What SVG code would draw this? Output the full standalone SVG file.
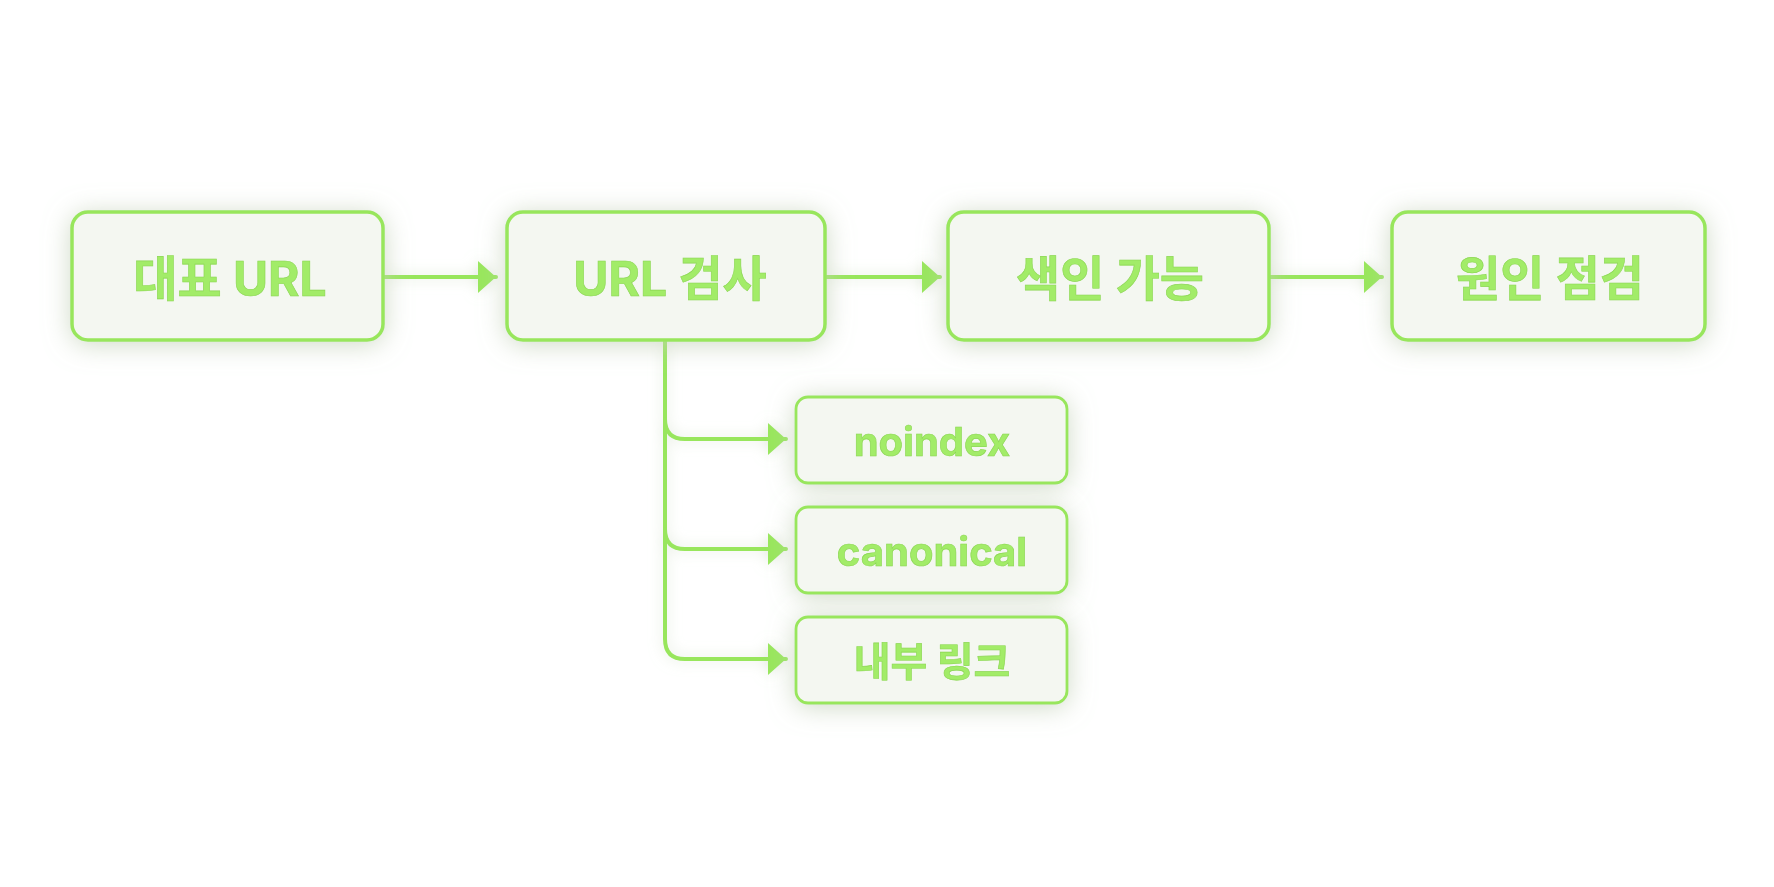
<svg xmlns="http://www.w3.org/2000/svg" width="1774" height="887" viewBox="0 0 1774 887">
<defs>
<filter id="glow" x="-25%" y="-50%" width="150%" height="200%">
<feGaussianBlur in="SourceAlpha" stdDeviation="13" result="b"/>
<feOffset in="b" dx="0" dy="3" result="o"/>
<feFlood flood-color="#c4d1b9" flood-opacity="0.8"/>
<feComposite in2="o" operator="in" result="s"/>
<feMerge><feMergeNode in="s"/><feMergeNode in="SourceGraphic"/></feMerge>
</filter>
<filter id="lglow" x="-20%" y="-20%" width="140%" height="140%">
<feGaussianBlur in="SourceAlpha" stdDeviation="7" result="b"/>
<feFlood flood-color="#d0dcc6" flood-opacity="0.7"/>
<feComposite in2="b" operator="in" result="s"/>
<feMerge><feMergeNode in="s"/><feMergeNode in="SourceGraphic"/></feMerge>
</filter>
<marker id="ah" viewBox="0 0 18 32" refX="18" refY="16" markerWidth="18" markerHeight="32" markerUnits="userSpaceOnUse" orient="auto">
<path d="M0,0 L18,16 L0,32 Z" fill="#98e65c"/>
</marker>
<style>
.box{fill:#f4f7f1;stroke:#98e65c;stroke-width:3.5}
.sub{fill:#f4f7f1;stroke:#98e65c;stroke-width:2.8}
.t{font-family:Inter,"Noto Sans CJK KR",sans-serif;font-weight:700;fill:#a2ec68;stroke:#8cd654;stroke-width:0.6;text-anchor:middle;dominant-baseline:central}
.m{font-size:48px}
.s{font-size:40px}
.c{fill:none;stroke:#98e65c;stroke-width:4;stroke-linecap:round}
</style>
</defs>
<rect width="1774" height="887" fill="#ffffff"/>
<g id="connectors" filter="url(#lglow)">
<path class="c" d="M384,277 L496,277" marker-end="url(#ah)"/>
<path class="c" d="M826,277 L940,277" marker-end="url(#ah)"/>
<path class="c" d="M1270,277 L1382,277" marker-end="url(#ah)"/>
<path class="c" d="M665,341 L665,419 Q665,439 685,439 L786,439" marker-end="url(#ah)"/>
<path class="c" d="M665,419 L665,529 Q665,549 685,549 L786,549" marker-end="url(#ah)"/>
<path class="c" d="M665,529 L665,639 Q665,659 685,659 L786,659" marker-end="url(#ah)"/>
</g>
<g id="n1" filter="url(#glow)">
<rect class="box" x="72" y="212" width="311" height="128" rx="16"/>
<text class="t m" x="230" y="278">대표 URL</text>
</g>
<g id="n2" filter="url(#glow)">
<rect class="box" x="507" y="212" width="318" height="128" rx="16"/>
<text class="t m" x="670" y="278">URL 검사</text>
</g>
<g id="n3" filter="url(#glow)">
<rect class="box" x="948" y="212" width="321" height="128" rx="16"/>
<text class="t m" x="1110" y="278">색인 가능</text>
</g>
<g id="n4" filter="url(#glow)">
<rect class="box" x="1392" y="212" width="313" height="128" rx="16"/>
<text class="t m" x="1550" y="278">원인 점검</text>
</g>
<g id="n5" filter="url(#glow)">
<rect class="sub" x="796" y="397" width="271" height="86" rx="12"/>
<text class="t s" x="932" y="441">noindex</text>
</g>
<g id="n6" filter="url(#glow)">
<rect class="sub" x="796" y="507" width="271" height="86" rx="12"/>
<text class="t s" x="932" y="551">canonical</text>
</g>
<g id="n7" filter="url(#glow)">
<rect class="sub" x="796" y="617" width="271" height="86" rx="12"/>
<text class="t s" x="932" y="661">내부 링크</text>
</g>
</svg>
